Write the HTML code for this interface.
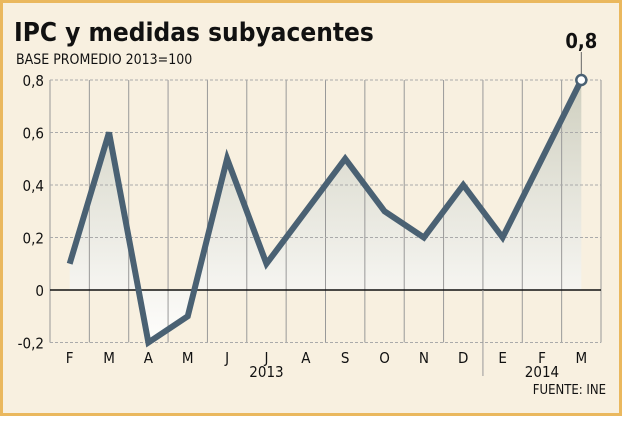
<!DOCTYPE html>
<html><head><meta charset="utf-8"><style>
body{margin:0;background:#fff}
svg text{font-family:"DejaVu Sans Condensed","Liberation Sans",sans-serif}
</style></head><body>
<svg width="622" height="416" viewBox="0 0 622 416">
<defs><linearGradient id="g" x1="0" y1="0" x2="0" y2="1"><stop offset="0" stop-color="#cfcfbf"/><stop offset="1" stop-color="#ffffff" stop-opacity="0.9"/></linearGradient></defs>
<rect x="1.5" y="1.5" width="619" height="413" fill="#f8f0e0" stroke="#eab85e" stroke-width="3"/>
<text x="14" y="41" font-size="26" font-weight="bold" fill="#111">IPC y medidas subyacentes</text>
<text x="16" y="64" font-size="14" fill="#111">BASE PROMEDIO 2013=100</text>
<g id="plot"></g>
<text x="606" y="394" font-size="13" fill="#111" text-anchor="end">FUENTE: INE</text>
</svg>
<script>
const categories=["F","M","A","M","J","J","A","S","O","N","D","E","F","M"];
const values=[0.1,0.6,-0.2,-0.1,0.5,0.1,0.3,0.5,0.3,0.2,0.4,0.2,0.5,0.8];
const yTicks=[0.8,0.6,0.4,0.2,0,-0.2];
const yTickLabels=["0,8","0,6","0,4","0,2","0","-0,2"];
const years=[{label:"2013",from:0,to:10},{label:"2014",from:11,to:13}];
const lastLabel="0,8";
const NS="http://www.w3.org/2000/svg";
const L=50,R=601,band=(R-L)/categories.length;
const y=v=>290-v*262.5;
const x=i=>L+band*(i+0.5);
const g=document.getElementById('plot');
function mk(t,a){const e=document.createElementNS(NS,t);for(const k in a)e.setAttribute(k,a[k]);g.appendChild(e);return e;}
let d=`M${x(0)},${y(0)} `+values.map((v,i)=>`L${x(i)},${y(v)}`).join(' ')+` L${x(values.length-1)},${y(0)} Z`;
let a=mk('path',{d:d,fill:'url(#g)'});


for(let i=0;i<=categories.length;i++){
 let e=mk('line',{x1:L+band*i,x2:L+band*i,y1:y(yTicks[0]),y2:y(yTicks[yTicks.length-1]),stroke:'#999','stroke-width':1});
 
 
}
yTicks.forEach((t,i)=>{
 let e=mk('line',{x1:L,x2:R,y1:y(t),y2:y(t),stroke:t===0?'#111':'#aaa','stroke-width':t===0?1.5:1,'stroke-dasharray':t===0?'':'3,2'});
 
 
 let tx=mk('text',{x:44,y:y(t)+6,'font-size':15,'text-anchor':'end',fill:'#111'});tx.textContent=yTickLabels[i];
 
 
});
categories.forEach((c,i)=>{
 let tx=mk('text',{x:x(i),y:363,'font-size':15,'text-anchor':'middle',fill:'#111'});tx.textContent=c;
 
 
});
years.forEach(yr=>{
 let tx=mk('text',{x:(x(yr.from)+x(yr.to))/2,y:377,'font-size':15,'text-anchor':'middle',fill:'#111'});tx.textContent=yr.label;
 
 
});
let sep=mk('line',{x1:L+band*11,x2:L+band*11,y1:y(0),y2:376,stroke:'#999'});


let ln=mk('polyline',{points:values.map((v,i)=>`${x(i)},${y(v)}`).join(' '),fill:'none',stroke:'#4a6173','stroke-width':6,'stroke-linejoin':'miter'});


const li=values.length-1;
let cl=mk('line',{x1:x(li),x2:x(li),y1:52,y2:y(values[li]),stroke:'#666'});


let c=mk('circle',{cx:x(li),cy:y(values[li]),r:5,fill:'#fff',stroke:'#4a6173','stroke-width':2.5});


let lt=mk('text',{x:x(li),y:48,'font-size':20,'font-weight':'bold','text-anchor':'middle',fill:'#111'});lt.textContent=lastLabel;


</script>
</body></html>
